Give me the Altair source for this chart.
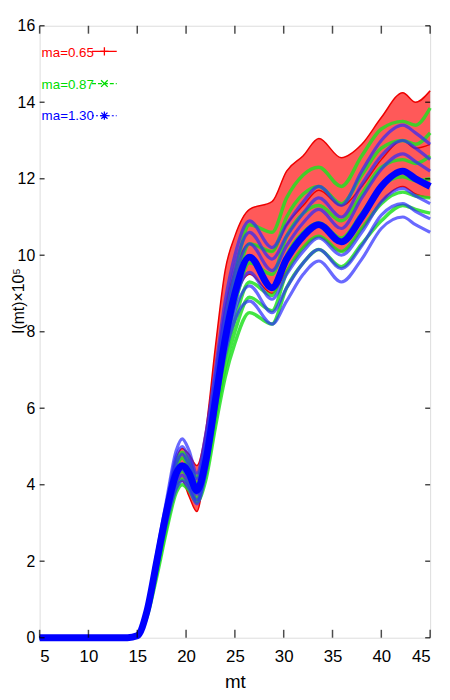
import altair as alt
import pandas as pd

# ---------------- data ----------------
x_pts = [5, 14, 15, 16, 17, 18, 19, 19.6, 20.3, 21.1, 22, 23, 24, 25, 26.5,
         28.8, 30.3, 32, 33.6, 35.9, 38, 40, 42.2, 43.5, 45]
onset = [0, 0, 0.05]  # values at x = 5, 14, 15 (all curves)

# ma = 0.65 (red band: upper / lower envelope + inner line)
red_hi = [0.8, 2.2, 3.5, 4.7, 4.95, 4.8, 4.5, 5.4, 7.6, 9.6, 10.5, 11.2, 11.4, 12.2, 12.6, 13.05, 12.55, 12.9, 13.6, 14.25, 14.0, 14.3]
red_mid = [0.7, 2.05, 3.3, 4.35, 4.5, 4.25, 3.9, 4.9, 6.9, 8.6, 9.6, 10.3, 10.1, 10.8, 11.3, 11.7, 11.3, 11.8, 12.5, 13.0, 12.8, 12.9]
red_lo = [0.6, 1.9, 3.1, 4.0, 4.1, 3.7, 3.3, 4.5, 6.2, 7.7, 8.8, 9.5, 9.0, 9.6, 10.2, 10.5, 10.1, 10.7, 11.4, 11.8, 11.6, 11.5]

# ma = 0.87 (green curves, top to bottom)
green_1 = [0.75, 2.1, 3.4, 4.6, 4.85, 4.6, 4.2, 5.0, 6.7, 8.3, 9.5, 10.8, 10.6, 11.5, 12.1, 12.3, 11.8, 12.6, 13.3, 13.5, 13.4, 13.85]
green_2 = [0.72, 2.0, 3.3, 4.45, 4.7, 4.45, 4.05, 4.8, 6.4, 7.9, 9.1, 10.3, 10.1, 11.0, 11.6, 11.8, 11.35, 12.1, 12.8, 13.0, 12.9, 13.2]
green_3 = [0.68, 1.9, 3.15, 4.3, 4.5, 4.3, 3.95, 4.6, 6.15, 7.6, 8.7, 9.8, 9.5, 10.5, 11.1, 11.3, 10.9, 11.6, 12.3, 12.5, 12.4, 12.6]
green_4 = [0.64, 1.8, 3.05, 4.15, 4.35, 4.15, 3.8, 4.4, 5.9, 7.3, 8.3, 9.3, 8.95, 10.0, 10.6, 10.85, 10.45, 11.1, 11.8, 12.05, 11.95, 12.0]
green_5 = [0.6, 1.7, 2.9, 3.95, 4.15, 4.0, 3.65, 4.25, 5.7, 7.05, 8.0, 8.9, 8.55, 9.55, 10.2, 10.5, 10.1, 10.7, 11.35, 11.65, 11.55, 11.5]
green_6 = [0.55, 1.6, 2.8, 3.8, 4.0, 3.85, 3.55, 4.1, 5.5, 6.8, 7.7, 8.5, 8.2, 9.15, 9.8, 10.15, 9.7, 10.3, 10.9, 11.3, 11.2, 11.1]

# ma = 1.30 (blue curves, top to bottom; blue_c = dense centre)
blue_1 = [0.8, 2.2, 3.6, 4.9, 5.2, 4.9, 4.3, 5.3, 7.0, 8.8, 10.0, 10.9, 10.2, 10.8, 11.4, 11.8, 11.3, 12.2, 13.0, 13.4, 13.2, 12.9]
blue_2 = [0.78, 2.15, 3.5, 4.75, 5.0, 4.7, 4.15, 5.1, 6.8, 8.5, 9.7, 10.6, 9.9, 10.5, 11.1, 11.5, 11.0, 11.85, 12.6, 13.0, 12.8, 12.5]
blue_3 = [0.75, 2.1, 3.4, 4.55, 4.8, 4.5, 4.0, 4.85, 6.5, 8.2, 9.4, 10.3, 9.6, 10.25, 10.85, 11.2, 10.7, 11.5, 12.25, 12.65, 12.45, 12.2]
blue_c = [0.7, 2.0, 3.3, 4.3, 4.5, 4.3, 3.85, 4.6, 6.2, 7.8, 9.0, 9.95, 9.15, 9.9, 10.5, 10.8, 10.35, 11.0, 11.8, 12.2, 12.0, 11.8]
blue_4 = [0.68, 1.95, 3.2, 4.2, 4.4, 4.15, 3.75, 4.5, 6.1, 7.7, 8.8, 9.55, 8.85, 9.5, 10.1, 10.45, 10.0, 10.6, 11.4, 11.75, 11.55, 11.35]
blue_5 = [0.65, 1.9, 3.1, 4.05, 4.25, 4.0, 3.6, 4.4, 6.0, 7.55, 8.55, 9.2, 8.5, 9.15, 9.8, 10.15, 9.65, 10.25, 11.05, 11.35, 11.15, 10.95]
blue_6 = [0.6, 1.8, 3.0, 3.9, 4.1, 3.9, 3.5, 4.3, 5.9, 7.4, 8.3, 8.8, 8.2, 8.8, 9.5, 9.85, 9.3, 9.9, 10.7, 11.0, 10.8, 10.6]

series_labels = ["ma=0.65", "ma=0.87", "ma=1.30"]
series_colors = ["#ff0000", "#00dd00", "#0000ff"]

x_ticks = [5, 10, 15, 20, 25, 30, 35, 40, 45]
y_ticks = [0, 2, 4, 6, 8, 10, 12, 14, 16]

# ---------------- build tables ----------------
def long_table(curves):
    rows = []
    for name, vals in curves:
        for xv, yv in zip(x_pts, onset + vals):
            rows.append({"x": xv, "y": yv, "curve": name})
    return pd.DataFrame(rows)

red_band = pd.DataFrame({"x": x_pts, "y": onset + red_hi, "lo": onset + red_lo})
red_lines = long_table([("r_hi", red_hi), ("r_mid", red_mid), ("r_lo", red_lo)])
green_df = long_table([("g1", green_1), ("g2", green_2), ("g3", green_3),
                       ("g4", green_4), ("g5", green_5), ("g6", green_6)])
blue_df = long_table([("b1", blue_1), ("b2", blue_2), ("b3", blue_3),
                      ("b4", blue_4), ("b5", blue_5), ("b6", blue_6)])
blue_center = long_table([("bc", blue_c)])

W, H = 395, 619
FONT = "Liberation Sans"

xs = alt.Scale(domain=[5, 45], nice=False, zero=False)
ys = alt.Scale(domain=[0, 16], nice=False)

x_axis = alt.Axis(values=x_ticks, grid=False, ticks=False, domain=False,
                  labelPadding=11, labelFont=FONT, labelFontSize=17,
                  labelColor="black", titleFont=FONT, titleFontSize=19,
                  titleFontWeight="normal", titleColor="black",
                  titleY=50, titleBaseline="alphabetic")
y_axis = alt.Axis(values=y_ticks, grid=False, ticks=False, domain=False,
                  labelPadding=5, labelFont=FONT, labelFontSize=16,
                  labelColor="black", labelBaseline="middle",
                  titleFont=FONT, titleFontSize=16,
                  titleFontWeight="normal", titleColor="black",
                  titleAngle=270, titleX=-21, titleY=278,
                  titleBaseline="middle", titleAlign="center")

X = alt.X("x:Q", scale=xs, title="mt", axis=x_axis)
Y = alt.Y("y:Q", scale=ys, title="I(mt)×10⁵", axis=y_axis)

layers = []
layers.append(alt.Chart(red_band).mark_area(interpolate="monotone", color="#ff5050", opacity=0.95)
              .encode(x=X, y=Y, y2="lo:Q"))
layers.append(alt.Chart(red_lines).mark_line(interpolate="monotone", color="#ee0000", strokeWidth=1.5)
              .encode(x=X, y=Y, detail="curve:N"))
layers.append(alt.Chart(green_df).mark_line(interpolate="monotone", color="#22e022", strokeWidth=3.5, opacity=0.85)
              .encode(x=X, y=Y, detail="curve:N"))
layers.append(alt.Chart(blue_df).mark_line(interpolate="monotone", color="#2a2aff", strokeWidth=3.2, opacity=0.7)
              .encode(x=X, y=Y, detail="curve:N"))
layers.append(alt.Chart(blue_center).mark_line(interpolate="monotone", color="#0000ff", strokeWidth=7)
              .encode(x=X, y=Y, detail="curve:N"))

# inward ticks on all four sides
xt = pd.DataFrame({"x": x_ticks})
yt = pd.DataFrame({"y": y_ticks})
layers.append(alt.Chart(xt).mark_tick(orient="vertical", color="black", thickness=1.5, size=8)
              .encode(x=X, y=alt.value(H - 4)))
layers.append(alt.Chart(xt).mark_tick(orient="vertical", color="black", thickness=1.5, size=8)
              .encode(x=X, y=alt.value(4)))
layers.append(alt.Chart(yt).mark_tick(orient="horizontal", color="black", thickness=1.5, size=5)
              .encode(y=Y, x=alt.value(2.5)))
layers.append(alt.Chart(yt).mark_tick(orient="horizontal", color="black", thickness=1.5, size=5)
              .encode(y=Y, x=alt.value(W - 2.5)))

# legend (inside, top-left)
dashes = [[1, 0], [4, 2], [2, 2]]
marker_paths = ["M-1,0L1,0M0,-1L0,1",
                "M-0.8,-0.8L0.8,0.8M-0.8,0.8L0.8,-0.8",
                "M-1,0L1,0M0,-1L0,1M-0.75,-0.75L0.75,0.75M-0.75,0.75L0.75,-0.75"]
for i, (lab, col) in enumerate(zip(series_labels, series_colors)):
    one = pd.DataFrame({"label": [lab]})
    ty = 32 + 31.5 * i
    ly = 26 + 32.5 * i
    layers.append(alt.Chart(one).mark_text(align="left", baseline="alphabetic", font=FONT,
                                           fontSize=13.5, color=col)
                  .encode(text="label:N", x=alt.value(2), y=alt.value(ty)))
    layers.append(alt.Chart(one).mark_rule(color=col, strokeWidth=1.2, strokeDash=dashes[i])
                  .encode(x=alt.value(53), x2=alt.value(78), y=alt.value(ly)))
    layers.append(alt.Chart(one).mark_point(shape=marker_paths[i], color=col, size=70,
                                            filled=False, strokeWidth=1.3, opacity=1)
                  .encode(x=alt.value(65.5), y=alt.value(ly)))

chart = alt.layer(*layers).properties(
    width=W, height=H,
    autosize=alt.AutoSizeParams(type="none"),
    padding={"left": 32, "top": 14, "right": 12, "bottom": 56},
).configure_view(stroke="black", strokeWidth=2).configure(background="white")

chart.save("out.html", embed_options={"renderer": "svg", "actions": False})
